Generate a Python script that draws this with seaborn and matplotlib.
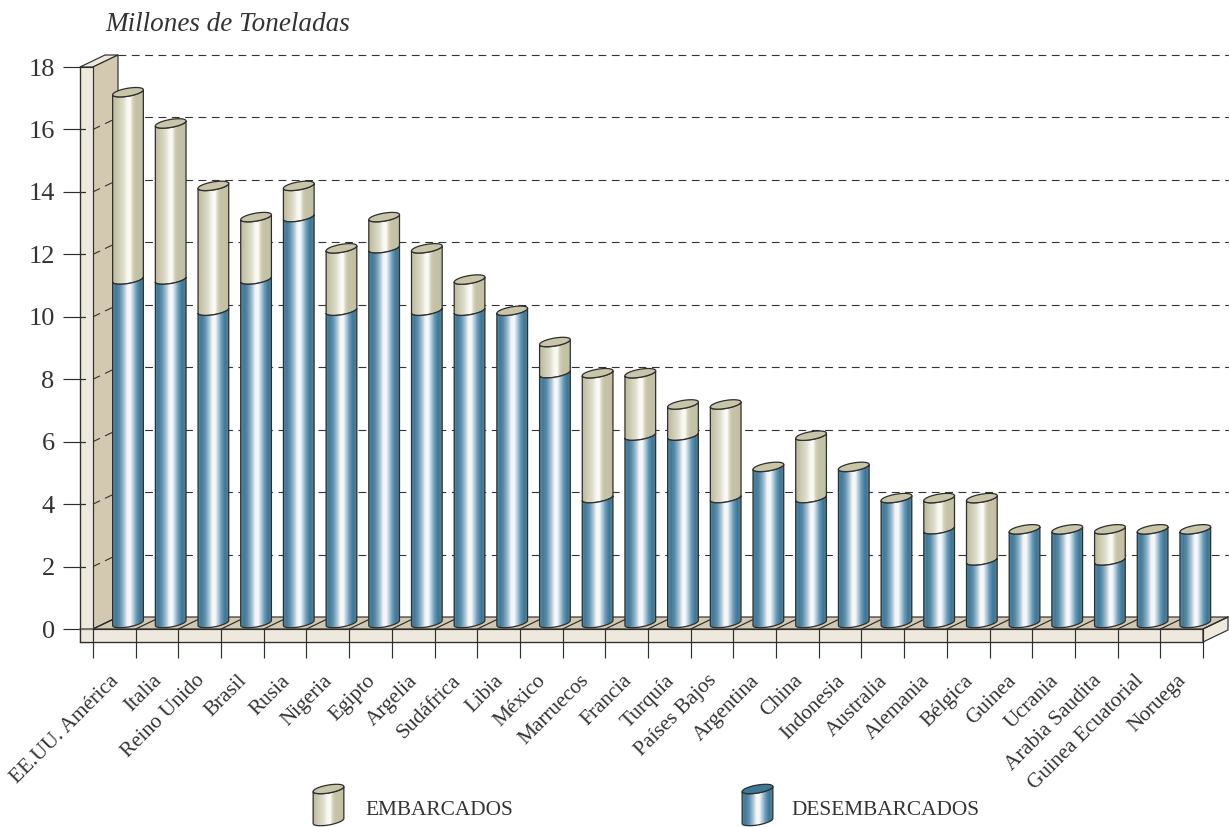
import numpy as np
import pandas as pd
import matplotlib.pyplot as plt
import seaborn as sns
from matplotlib.colors import LinearSegmentedColormap
from matplotlib.patches import Polygon

paises = ['EE.UU. América', 'Italia', 'Reino Unido', 'Brasil', 'Rusia', 'Nigeria', 'Egipto',
          'Argelia', 'Sudáfrica', 'Libia', 'México', 'Marruecos', 'Francia', 'Turquía',
          'Países Bajos', 'Argentina', 'China', 'Indonesia', 'Australia', 'Alemania', 'Bélgica',
          'Guinea', 'Ucrania', 'Arabia Saudita', 'Guinea Ecuatorial', 'Noruega']
desembarcados = [11, 11, 10, 11, 13, 10, 12, 10, 10, 10, 8, 4, 6, 6, 4, 5, 4, 5, 4, 3, 2, 3, 3, 2, 3, 3]
embarcados = [6, 5, 4, 2, 1, 2, 1, 2, 1, 0, 1, 4, 2, 1, 3, 0, 2, 0, 0, 1, 2, 0, 0, 1, 0, 0]
y_ticks = [0, 2, 4, 6, 8, 10, 12, 14, 16, 18]

sns.set_theme(style='white')
plt.rcParams['font.family'] = ['Liberation Serif', 'DejaVu Serif']

# pixel layout of the drawing
W, H = 1229, 827
UX = (1203 - 93) / 26
UY = (629 - 67) / 18
DEPTH_X = 25 / UX
DEPTH_Y = 12 / UY
PLINTH = 13 / UY
X0 = -0.5 - 13 / UX
LINE = '#2e2e2e'
FRONT = '#efe9dd'
SIDE = '#d3c8b0'

blue = LinearSegmentedColormap.from_list('blue', [(0, '#5a8aa3'), (.1, '#3f7a99'), (.22, '#5d90ac'),
                                                  (.36, '#a9c3d5'), (.46, '#f2f5f8'), (.56, '#f7f9fb'),
                                                  (.66, '#b4cadb'), (.76, '#6a99b4'), (.88, '#3c7998'),
                                                  (1, '#4d829e')])
crema = LinearSegmentedColormap.from_list('crema', [(0, '#bdbaa0'), (.12, '#c9c6ab'), (.34, '#e0dfcd'),
                                                    (.46, '#f8f8f1'), (.56, '#fbfbf6'), (.63, '#d8d6c2'),
                                                    (.72, '#c6c3a6'), (1, '#c2bfa2')])
TAPA_CREMA = '#c8c5a8'

fig = plt.figure(figsize=(W / 100, H / 100), dpi=100)
ax = fig.add_axes([80 / W, (H - 642) / H, (1203 - 80) / W, (642 - 67) / H])

df = pd.DataFrame({'pais': paises, 'desembarcados': desembarcados, 'embarcados': embarcados})
df['total'] = df['desembarcados'] + df['embarcados']

ANCHO = 30.7 / UX
sns.barplot(data=df, x='pais', y='total', color=TAPA_CREMA, width=ANCHO, saturation=1, ax=ax, zorder=3)
n_crema = len(ax.patches)
sns.barplot(data=df, x='pais', y='desembarcados', color='#3c7897', width=ANCHO, saturation=1, ax=ax, zorder=3)
ax.set_xlabel('')
ax.set_ylabel('')


def poly(pts, fc, z, ec=LINE, lw=0.85):
    ax.add_patch(Polygon(pts, closed=True, fc=fc, ec=ec, lw=lw, zorder=z, clip_on=False, joinstyle='round'))


def ellipse(cx, cy, th):
    # tilted ellipse, left end lower than the right one
    a = ANCHO / 2
    return cx + a * np.cos(th), cy + (2.5 * np.cos(th) + 4 * np.sin(th)) / UY


def cylinder(cx, y_low, y_high, cmap, z, cap=None):
    th_front = np.linspace(np.pi, 2 * np.pi, 30)
    xb, yb = ellipse(cx, y_low, th_front)
    xt, yt = ellipse(cx, y_high, th_front)
    pts = np.vstack([np.column_stack([xb, yb]), np.column_stack([xt, yt])[::-1]])
    body = Polygon(pts, closed=True, transform=ax.transData, fc='none', ec=LINE, lw=0.9, zorder=z + .2, clip_on=False)
    ax.add_patch(body)
    g = np.linspace(0, 1, 128).reshape(1, -1)
    im = ax.imshow(g, cmap=cmap, aspect='auto', interpolation='bilinear', zorder=z + .1,
                   extent=(cx - ANCHO / 2, cx + ANCHO / 2, y_low - 8 / UY, y_high + 8 / UY))
    im.set_clip_box(fig.bbox)
    im.set_clip_path(body)
    if cap is not None:
        th = np.linspace(0, 2 * np.pi, 60)
        xc, yc = ellipse(cx, y_high, th)
        poly(np.column_stack([xc, yc]), cap, z + .3, lw=0.9)
    return body


# wall, floor, plinth
d2 = DEPTH_X
poly([(X0, 18), (-0.5, 18), (-0.5 + d2, 18 + DEPTH_Y), (X0 + d2, 18 + DEPTH_Y)], FRONT, 1)
poly([(-0.5, 18), (-0.5 + d2, 18 + DEPTH_Y), (-0.5 + d2, DEPTH_Y), (-0.5, 0)], SIDE, 1)
poly([(X0, 18), (-0.5, 18), (-0.5, -PLINTH), (X0, -PLINTH)], FRONT, 1.1)
poly([(-0.5, 0), (-0.5 + d2, DEPTH_Y), (25.5 + d2, DEPTH_Y), (25.5, 0)], SIDE, 1.5)
poly([(X0, 0), (25.5, 0), (25.5, -PLINTH), (X0, -PLINTH)], FRONT, 1.6)
poly([(25.5, 0), (25.5 + d2, DEPTH_Y), (25.5 + d2, DEPTH_Y - PLINTH), (25.5, -PLINTH)], FRONT, 1.6)

# grid on the back wall, dashes running up the side wall
for v in y_ticks[1:]:
    ax.plot([-0.5 + d2, 25.5 + d2 + 0.02], [v + DEPTH_Y] * 2, color='#333333', lw=0.8, dashes=(7, 5),
            zorder=1.2, clip_on=False)
    if v < 18:
        ax.plot([-0.5, -0.5 + d2], [v, v + DEPTH_Y], color='#333333', lw=0.8, dashes=(7, 5), zorder=1.2, clip_on=False)
        ax.plot([X0, X0 + 5 / UX], [v, v], color=LINE, lw=0.9, zorder=1.3, clip_on=False)
ax.plot([X0, -0.5], [0, 0], color='#777777', lw=1.4, zorder=1.7, clip_on=False)

# bin lines on the plinth and the floor
for e in np.arange(-0.5, 26):
    ax.plot([e, e], [0, -PLINTH], color=LINE, lw=0.85, zorder=1.7, clip_on=False)
    ax.plot([e, e + d2], [0, DEPTH_Y], color=LINE, lw=0.85, zorder=1.7, clip_on=False)

# cylinders, taken from the seaborn bars
OFF_X = 13.65 / UX
OFF_Y = 6 / UY
for k, bar in enumerate(ax.patches[:2 * len(paises)]):
    cx = bar.get_x() + bar.get_width() / 2 + OFF_X
    h = bar.get_height()
    i = int(round(bar.get_x() + bar.get_width() / 2))
    if k < n_crema:
        if embarcados[i] == 0:
            bar.set_visible(False)
            continue
        b = cylinder(cx, desembarcados[i] + OFF_Y, h + OFF_Y, crema, 3, cap=TAPA_CREMA)
    else:
        b = cylinder(cx, OFF_Y, h + OFF_Y, blue, 4, cap=TAPA_CREMA if embarcados[i] == 0 else None)
    bar.set_clip_path(b)


def px_x(px):
    return -0.5 + (px - 93) / UX


def px_y(py):
    return (629 - py) / UY


def legend_cyl(px, cmap, cap):
    cylinder(px_x(px), px_y(821), px_y(789), cmap, 5, cap=cap)


legend_cyl(328.5, crema, TAPA_CREMA)
legend_cyl(757.5, blue, '#3d7897')

ax.set_xlim(X0, 25.5)
ax.set_ylim(-PLINTH, 18)

# axes and text
ax.set_yticks(y_ticks)
ax.set_xticks(np.arange(-0.5, 26), labels=[])
ax.set_xticks(np.arange(26) + 0.05, labels=paises, minor=True)
ax.tick_params(axis='y', left=True, length=12.2, width=0.85, color=LINE, labelsize=19, labelcolor='#333333', pad=6)
ax.tick_params(axis='x', which='major', bottom=True, length=11.5, width=0.85, color=LINE)
ax.tick_params(axis='x', which='minor', bottom=False, length=0, pad=26, labelsize=15.3, labelcolor='#333333')
for lab in ax.get_xticklabels(minor=True):
    lab.set_rotation(45)
    lab.set_ha('right')
    lab.set_va('center')
    lab.set_rotation_mode('anchor')
sns.despine(ax=ax, top=True, right=True)
for s in ['left', 'bottom']:
    ax.spines[s].set_color(LINE)
    ax.spines[s].set_linewidth(0.85)
ax.patch.set_alpha(0)

fig.text(105 / W, 1 - 31 / H, 'Millones de Toneladas', style='italic', fontsize=19.5, color='#333333')
fig.text(365 / W, 1 - 815 / H, 'EMBARCADOS', fontsize=15.4, color='#333333')
fig.text(791 / W, 1 - 815 / H, 'DESEMBARCADOS', fontsize=15.4, color='#333333')

fig.savefig('out.png', dpi=100)
